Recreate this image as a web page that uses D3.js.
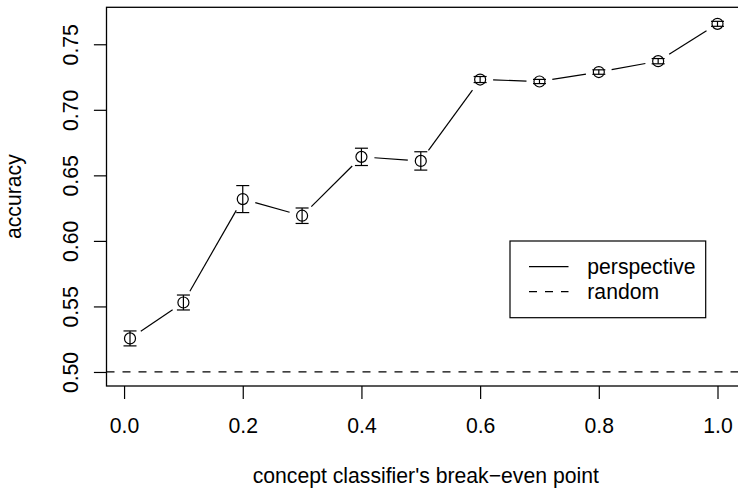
<!DOCTYPE html>
<html>
<head>
<meta charset="utf-8">
<script src="https://cdn.jsdelivr.net/npm/d3@7"></script>
<style>
  html, body { margin: 0; padding: 0; background: #fff; }
  svg text { font-family: "Liberation Sans", Arial, sans-serif; fill: #000; }
</style>
</head>
<body>
<svg id="chart" width="738" height="493"></svg>
<script>
// Break-even points of the concept classifier
const breakEven = [0.01, 0.1, 0.2, 0.3, 0.4, 0.5, 0.6, 0.7, 0.8, 0.9, 1.0];
// Mean accuracy of the perspective classifier
const accuracy = [0.5256, 0.5530, 0.6319, 0.6192, 0.6641, 0.6610, 0.7231, 0.7216, 0.7288, 0.7371, 0.7656];
// Half-width of the error bars
const errHalf = [0.0057, 0.0057, 0.0103, 0.0059, 0.0066, 0.0070, 0.0023, 0.0016, 0.0017, 0.0020, 0.0019];
// Random baseline
const randomLevel = 0.5;
const xTicks = [0.0, 0.2, 0.4, 0.6, 0.8, 1.0];
const yTicks = [0.50, 0.55, 0.60, 0.65, 0.70, 0.75];
const legendLabels = ["perspective", "random"];

const svg = d3.select("#chart");
const plot = { left: 106.5, right: 741, top: 7.3, bottom: 386 };
const fontSize = 21.2;

// Axis limits padded by 4% on each side
function padded(lo, hi) { const p = (hi - lo) * 0.04; return [lo - p, hi + p]; }
const xDom = padded(d3.min(breakEven), d3.max(breakEven));
const yDom = padded(randomLevel, d3.max(accuracy.map((a, i) => a + errHalf[i])));

const x = d3.scaleLinear().domain(xDom).range([plot.left, plot.right]);
const y = d3.scaleLinear().domain(yDom).range([plot.bottom, plot.top]);

// Plot frame
svg.append("rect")
  .attr("x", plot.left).attr("y", plot.top)
  .attr("width", plot.right - plot.left).attr("height", plot.bottom - plot.top)
  .attr("fill", "none").attr("stroke", "#000").attr("stroke-width", 1.3);

// Bottom axis
const xAxis = svg.append("g")
  .attr("transform", `translate(0,${plot.bottom})`)
  .call(d3.axisBottom(x).tickValues(xTicks).tickSize(13).tickFormat(d3.format(".1f")));
xAxis.select(".domain").remove();
xAxis.selectAll(".tick line").attr("stroke", "#000").attr("stroke-width", 1.2);
xAxis.selectAll(".tick text")
  .attr("y", 0).attr("dy", 0)
  .attr("transform", "translate(0,46.7)")
  .style("font-size", fontSize + "px")
  .style("font-family", '"Liberation Sans", Arial, sans-serif');

// Left axis with rotated labels
const yAxis = svg.append("g")
  .attr("transform", `translate(${plot.left},0)`)
  .call(d3.axisLeft(y).tickValues(yTicks).tickSize(12.6).tickFormat(d3.format(".2f")));
yAxis.select(".domain").remove();
yAxis.selectAll(".tick line").attr("stroke", "#000").attr("stroke-width", 1.2);
yAxis.selectAll(".tick text")
  .attr("x", 0).attr("dy", 0)
  .attr("text-anchor", "middle")
  .attr("transform", `translate(${78 - plot.left},0) rotate(-90)`)
  .style("font-size", fontSize + "px")
  .style("font-family", '"Liberation Sans", Arial, sans-serif');

// Axis titles
svg.append("text")
  .attr("x", (plot.left + plot.right) / 2 + 2).attr("y", 483)
  .attr("text-anchor", "middle").style("font-size", fontSize + "px")
  .text("concept classifier's break\u2212even point");
svg.append("text")
  .attr("transform", `translate(21,${(plot.top + plot.bottom) / 2}) rotate(-90)`)
  .attr("text-anchor", "middle").style("font-size", fontSize + "px")
  .text("accuracy");

// Random baseline
svg.append("line")
  .attr("x1", plot.left).attr("x2", plot.right)
  .attr("y1", y(randomLevel)).attr("y2", y(randomLevel))
  .attr("stroke", "#000").attr("stroke-width", 1.2).attr("stroke-dasharray", "8,8");

// Connecting segments, shortened so they stop short of the markers
const pts = breakEven.map((b, i) => [x(b), y(accuracy[i])]);
const gap = 13;
const segs = d3.pairs(pts).map(([p, q]) => {
  const dx = q[0] - p[0], dy = q[1] - p[1];
  const len = Math.hypot(dx, dy);
  if (len <= 2 * gap) return null;
  const ux = dx / len, uy = dy / len;
  return [p[0] + ux * gap, p[1] + uy * gap, q[0] - ux * gap, q[1] - uy * gap];
}).filter(Boolean);
svg.append("g").selectAll("line").data(segs).join("line")
  .attr("x1", d => d[0]).attr("y1", d => d[1])
  .attr("x2", d => d[2]).attr("y2", d => d[3])
  .attr("stroke", "#000").attr("stroke-width", 1.2);

// Error bars
const eb = svg.append("g").attr("stroke", "#000").attr("stroke-width", 1.2);
breakEven.forEach((b, i) => {
  const cx = x(b), lo = y(accuracy[i] - errHalf[i]), hi = y(accuracy[i] + errHalf[i]);
  eb.append("line").attr("x1", cx).attr("x2", cx).attr("y1", lo).attr("y2", hi);
  eb.append("line").attr("x1", cx - 6.5).attr("x2", cx + 6.5).attr("y1", lo).attr("y2", lo);
  eb.append("line").attr("x1", cx - 6.5).attr("x2", cx + 6.5).attr("y1", hi).attr("y2", hi);
});

// Open circle markers
svg.append("g").selectAll("circle").data(pts).join("circle")
  .attr("cx", d => d[0]).attr("cy", d => d[1]).attr("r", 5.5)
  .attr("fill", "none").attr("stroke", "#000").attr("stroke-width", 1.2);

// Legend
const lg = svg.append("g");
lg.append("rect").attr("x", 510).attr("y", 241).attr("width", 195.7).attr("height", 76.7)
  .attr("fill", "#fff").attr("stroke", "#000").attr("stroke-width", 1.2);
const legendDash = [null, "8,8"];
legendLabels.forEach((lab, i) => {
  const ly = 266.7 + i * 25;
  lg.append("line").attr("x1", 529).attr("x2", 568.5).attr("y1", ly).attr("y2", ly)
    .attr("stroke", "#000").attr("stroke-width", 1.2)
    .attr("stroke-dasharray", legendDash[i]);
  lg.append("text").attr("x", 587.3).attr("y", ly + 6.8)
    .style("font-size", fontSize + "px").text(lab);
});
</script>
</body>
</html>
